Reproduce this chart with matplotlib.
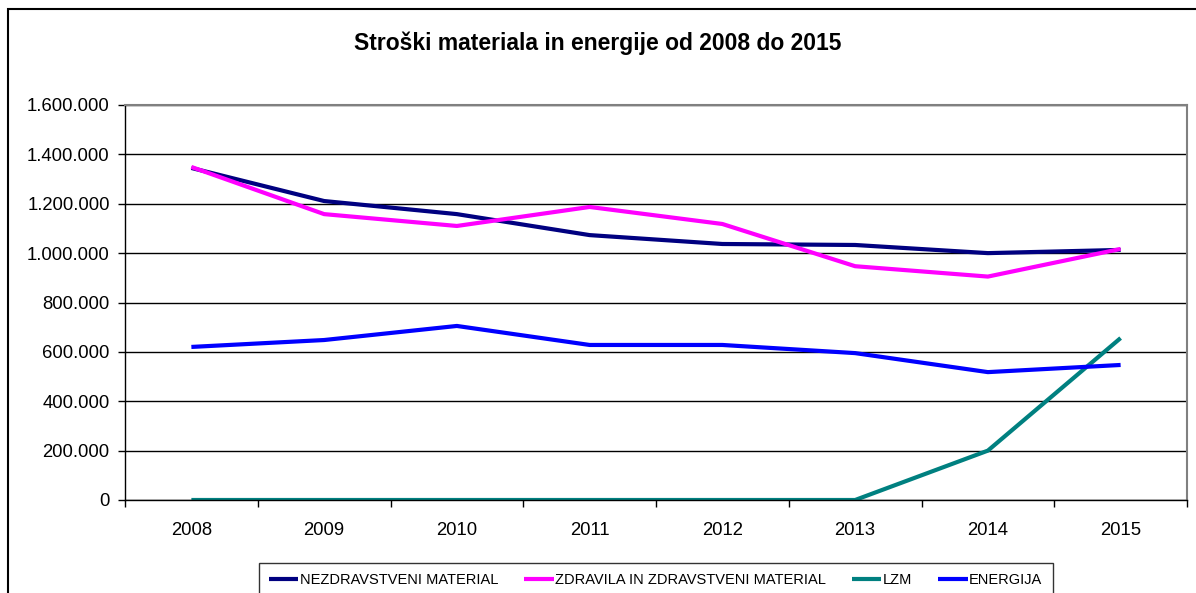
import matplotlib.pyplot as plt
from matplotlib.patches import Rectangle
from matplotlib.ticker import FixedLocator, FuncFormatter

plt.rcParams['font.family'] = ['Liberation Sans', 'DejaVu Sans']

years = ['2008', '2009', '2010', '2011', '2012', '2013', '2014', '2015']
nezdravstveni = [1345000, 1211000, 1158000, 1073000, 1037000, 1033000, 1000000, 1013000]
zdravila = [1349000, 1158000, 1110000, 1187000, 1118000, 947000, 905000, 1017000]
lzm = [0, 0, 0, 0, 0, 0, 200000, 656000]
energija = [620000, 648000, 705000, 628000, 628000, 595000, 518000, 547000]

series = [
    ('NEZDRAVSTVENI MATERIAL', nezdravstveni, '#000080'),
    ('ZDRAVILA IN ZDRAVSTVENI MATERIAL', zdravila, '#FF00FF'),
    ('LZM', lzm, '#008080'),
    ('ENERGIJA', energija, '#0000FF'),
]

fig = plt.figure(figsize=(11.96, 5.93), dpi=100)
ax = fig.add_axes([125 / 1196, 1 - 500 / 593, 1062 / 1196, 395 / 593])

x = list(range(len(years)))
for name, vals, col in series:
    ax.plot(x, vals, color=col, lw=3, label=name, solid_capstyle='butt')

ax.set_xlim(-0.5, len(years) - 0.5)
ax.set_ylim(0, 1600000)
ax.set_yticks(range(0, 1600001, 200000))
ax.yaxis.set_major_formatter(FuncFormatter(lambda v, p: f"{int(v):,}".replace(",", ".")))
ax.grid(axis='y', color='black', lw=1)
ax.set_axisbelow(True)

# category ticks between years, labels in the middle
ax.xaxis.set_major_locator(FixedLocator([i - 0.5 for i in range(len(years) + 1)]))
ax.xaxis.set_major_formatter(FuncFormatter(lambda v, p: ''))
ax.xaxis.set_minor_locator(FixedLocator(x))
ax.set_xticklabels(years, minor=True)
ax.tick_params(axis='x', which='major', length=5, width=1, direction='out')
ax.tick_params(axis='x', which='minor', length=0, pad=16, labelsize=13.3)
ax.tick_params(axis='y', length=5, width=1, direction='out', pad=6, labelsize=13.3)

for s in ['left', 'bottom']:
    ax.spines[s].set_color('black')
    ax.spines[s].set_linewidth(1)
for s in ['top', 'right']:
    ax.spines[s].set_color('#808080')
    ax.spines[s].set_linewidth(1.5)

fig.text(598 / 1196, 1 - 43 / 593, 'Stroški materiala in energije od 2008 do 2015',
         ha='center', va='center', fontsize=16.5, fontweight='bold')

leg = fig.legend(loc='upper left', bbox_to_anchor=(259 / 1196, 1 - 563 / 593), ncol=4,
                 fontsize=10.5, frameon=True, fancybox=False, edgecolor='black',
                 handlelength=2.0, handletextpad=0.1, columnspacing=1.8, borderpad=0.7,
                 borderaxespad=0)
leg.get_frame().set_linewidth(1)

# outer chart frame
fig.patches.append(Rectangle((8 / 1196, -0.1), 1.2, 1.1 - 9 / 593, transform=fig.transFigure,
                             fill=False, edgecolor='black', lw=1.5, zorder=-1))

fig.savefig('out.png', dpi=100)
